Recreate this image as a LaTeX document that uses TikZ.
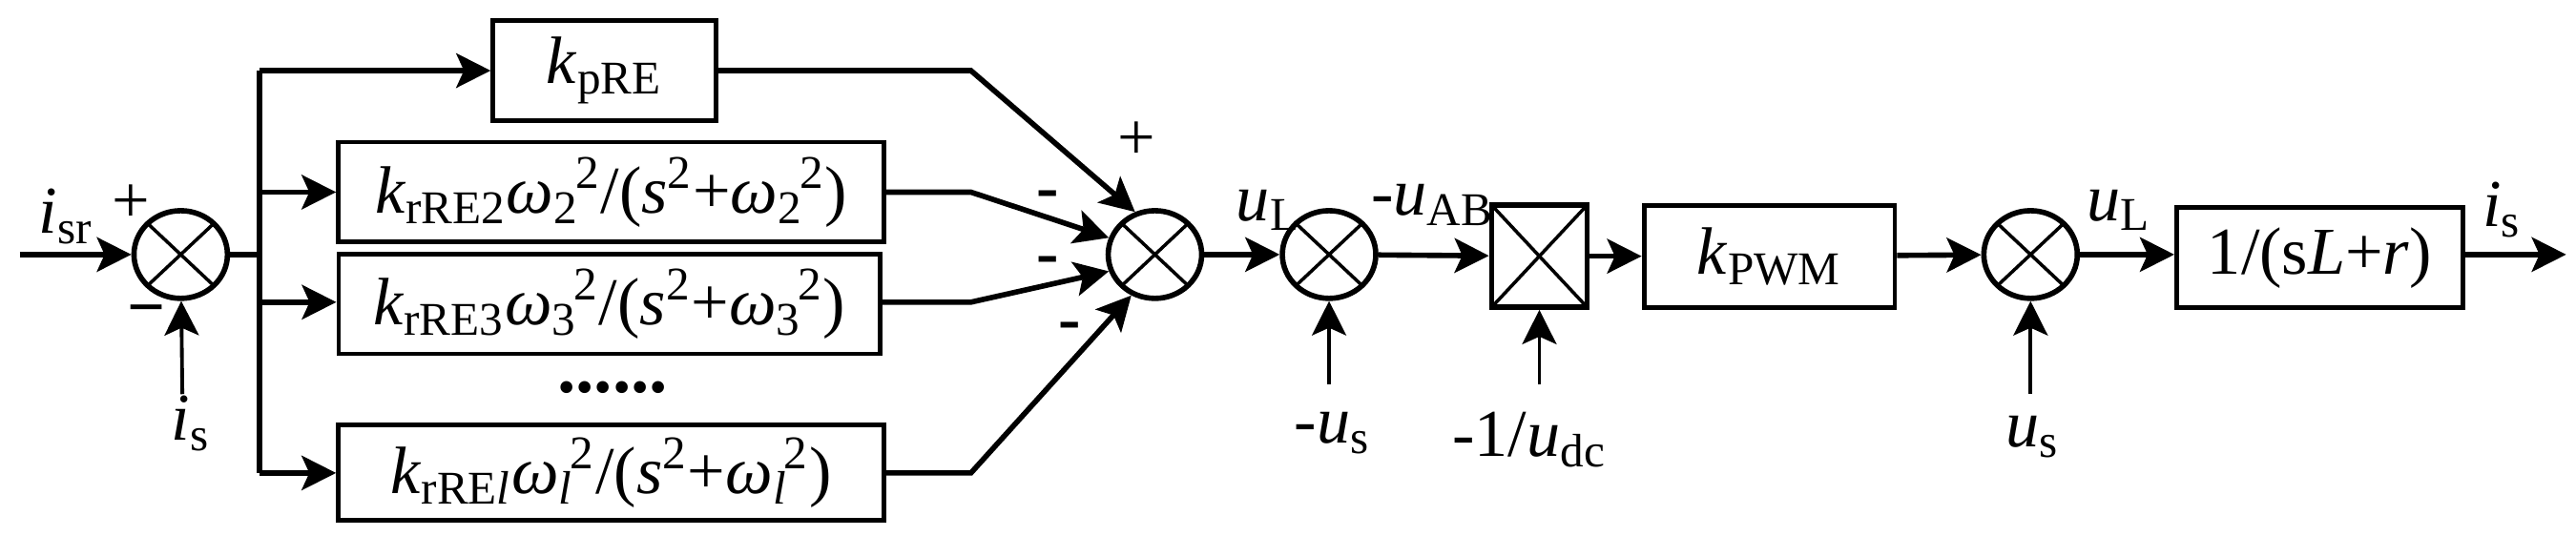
\documentclass[tikz,border=0pt]{standalone}
\usepackage{fontspec}
\setmainfont{LiberationSerif}[Extension=.ttf,UprightFont=*-Regular,ItalicFont=*-Italic,BoldFont=*-Bold,BoldItalicFont=*-BoldItalic]
\usetikzlibrary{arrows.meta,shapes.geometric}
\newcommand\mi[1]{\textit{#1}}
\newcommand\sbsp[2]{\textsubscript{#1}\kern-0.05em\textsuperscript{#2}}
\begin{document}
\begin{tikzpicture}[x=0.01722cm,y=-0.01722cm,
  font=\fontsize{20}{22}\selectfont,
  ln/.style={line width=1.6pt,-{Stealth[length=0.36cm,width=0.36cm,inset=0.08cm]}},
  thin/.style={line width=1.1pt,-{Stealth[length=0.36cm,width=0.36cm,inset=0.08cm]}},
  blk/.style={draw,line width=1.4pt,rectangle,inner sep=0pt},
  sum/.style={draw,line width=1.6pt,ellipse,minimum width=0.98cm,minimum height=0.92cm,inner sep=0pt,
    path picture={\draw[line width=1pt] (path picture bounding box.north west)--(path picture bounding box.south east)
      (path picture bounding box.north east)--(path picture bounding box.south west);}},
  lbl/.style={inner sep=0pt}]
\useasboundingbox (0,0) rectangle (1568,326);
\coordinate (in) at (12,155);
\node[sum] (s1) at (110,155) {};
\coordinate (j) at (158,155);
\coordinate (jt) at (158,43);
\coordinate (jb) at (158,288);
\node[blk,minimum width=2.34cm,minimum height=1.05cm] (kp) at (368,43) {\mi{k}\textsubscript{pRE}};
\node[blk,minimum width=5.72cm,minimum height=1.05cm] (b2) at (372,117) {\mi{k}\textsubscript{rRE2}\mi{ω}\sbsp{2}{2}/(\mi{s}\textsuperscript{2}+\mi{ω}\sbsp{2}{2})};
\node[blk,minimum width=5.68cm,minimum height=1.05cm] (b3) at (371,185) {\mi{k}\textsubscript{rRE3}\mi{ω}\sbsp{3}{2}/(\mi{s}\textsuperscript{2}+\mi{ω}\sbsp{3}{2})};
\node[blk,minimum width=5.72cm,minimum height=1.0cm] (bl) at (372,288) {\mi{k}\textsubscript{rRE\mi{l}}\mi{ω}\sbsp{\mi{l}}{2}/(\mi{s}\textsuperscript{2}+\mi{ω}\sbsp{\mi{l}}{2})};
\node[lbl,font=\fontsize{22}{22}\selectfont\bfseries] (dots) at (373,236) {......};
\node[sum] (s2) at (703,155) {};
\node[sum] (s3) at (809,155) {};
\node[blk,line width=1.6pt,minimum width=1.0cm,minimum height=1.07cm,
  path picture={\draw[line width=1pt] (path picture bounding box.north west)--(path picture bounding box.south east)
      (path picture bounding box.north east)--(path picture bounding box.south west);}] (m) at (937,156) {};
\node[blk,minimum width=2.63cm,minimum height=1.07cm] (pw) at (1077,156) {\mi{k}\textsubscript{PWM}};
\node[sum] (s4) at (1236,155) {};
\node[blk,minimum width=3.0cm,minimum height=1.05cm] (pl) at (1412,157) {1/(s\mi{L}+\mi{r})};
\coordinate (out) at (1562,155);
\coordinate (isb) at (111,240);
\coordinate (usb) at (809,234);
\coordinate (udb) at (937,234);
\coordinate (us2) at (1236,240);
\coordinate (c1) at (591,43);
\coordinate (c2) at (591,117);
\coordinate (c3) at (591,184);
\coordinate (c4) at (591,288);
\draw[ln] (in) -- (s1);
\draw[thin] (isb) -- (s1);
\draw[line width=1.6pt] (s1) -- (j);
\draw[line width=1.6pt] (jt) -- (jb);
\draw[ln] (jt) -- (kp);
\draw[ln] (158,117) -- (b2);
\draw[ln] (158,184) -- (b3.west|-0,184);
\draw[ln] (jb) -- (bl);
\draw[ln] (kp) -- (c1) -- (s2.115);
\draw[ln] (b2.east|-c2) -- (c2) -- (s2.160);
\draw[ln] (b3.east|-c3) -- (c3) -- (s2.200);
\draw[ln] (bl) -- (c4) -- (s2.240);
\draw[ln] (s2) -- (s3);
\draw[thin] (usb) -- (s3);
\draw[ln] (s3) -- (m);
\draw[thin] (udb) -- (m);
\draw[ln] (m) -- (pw);
\draw[ln] (pw) -- (s4);
\draw[thin] (us2) -- (s4);
\draw[ln] (s4) -- (pl.west|-s4);
\draw[ln] (pl.east|-s4) -- (out);
\node[lbl] (t1) at (40,132) {\mi{i}\textsubscript{sr}};
\node[lbl] (t2) at (80,124) {+};
\node[lbl] (t3) at (89,193) {\bfseries\textminus};
\node[lbl] (t4) at (116,258) {\mi{i}\textsubscript{s}};
\node[lbl] (t5) at (692,86) {+};
\node[lbl] (t6) at (638,122) {\bfseries -};
\node[lbl] (t7) at (638,162) {\bfseries -};
\node[lbl] (t8) at (651,202) {\bfseries -};
\node[lbl] (t9) at (772,128) {\mi{u}\textsubscript{L}};
\node[lbl] (t10) at (872,125) {-\mi{u}\textsubscript{AB}};
\node[lbl] (t11) at (811,264) {-\mi{u}\textsubscript{s}};
\node[lbl] (t12) at (931,268) {-1/\mi{u}\textsubscript{dc}};
\node[lbl] (t13) at (1237,266) {\mi{u}\textsubscript{s}};
\node[lbl] (t14) at (1290,128) {\mi{u}\textsubscript{L}};
\node[lbl] (t15) at (1523,128) {\mi{i}\textsubscript{s}};
\end{tikzpicture}
\end{document}
